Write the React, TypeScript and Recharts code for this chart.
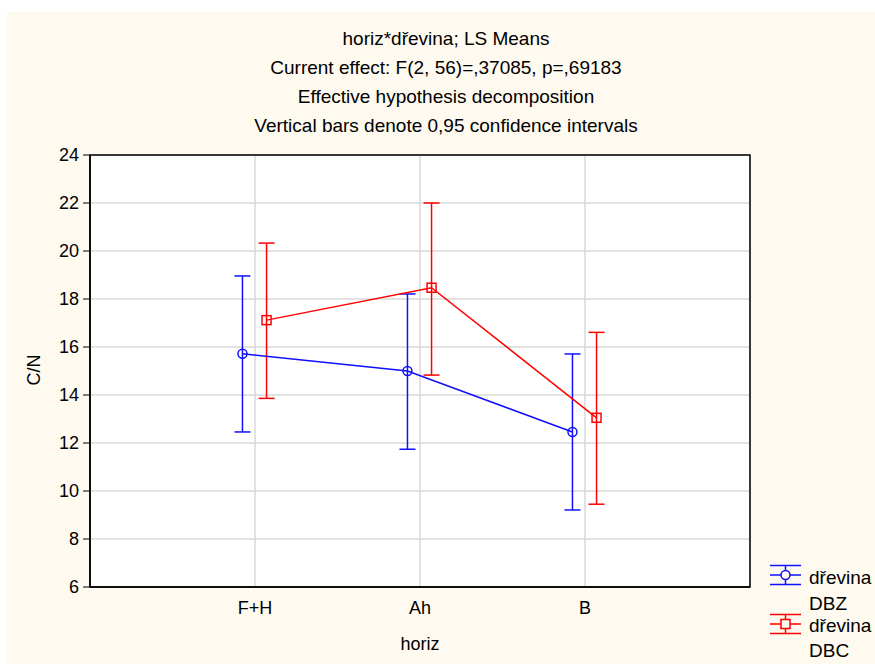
import React from 'react';
import { ComposedChart, Scatter, XAxis, YAxis, CartesianGrid, ErrorBar, ReferenceArea } from 'recharts';

const categories = ['F+H', 'Ah', 'B'];
const yTicks = [6, 8, 10, 12, 14, 16, 18, 20, 22, 24];
const dbzMean = [15.72, 15.0, 12.46];
const dbzLow = [12.46, 11.74, 9.21];
const dbzHigh = [18.96, 18.21, 15.71];
const dbcMean = [17.12, 18.47, 13.05];
const dbcLow = [13.86, 14.83, 9.45];
const dbcHigh = [20.33, 22.0, 16.61];
const titleLines = [
  'horiz*dřevina; LS Means',
  'Current effect: F(2, 56)=,37085, p=,69183',
  'Effective hypothesis decomposition',
  'Vertical bars denote 0,95 confidence intervals',
];

const BLUE = '#1010ff';
const RED = '#ff0000';
const CREAM = '#fefaf0';
const FONT = '"Liberation Sans", Arial, sans-serif';

const build = (mean: number[], low: number[], high: number[], off: number) =>
  mean.map((m, i) => ({ x: i + 1 + off, y: m, err: [m - low[i], high[i] - m] }));

const dbzData = build(dbzMean, dbzLow, dbzHigh, -0.076);
const dbcData = build(dbcMean, dbcLow, dbcHigh, 0.07);

const CircleShape = (props: any) => (
  <circle cx={props.cx} cy={props.cy} r={4.5} fill="none" stroke={BLUE} strokeWidth={1.5} />
);
const SquareShape = (props: any) => (
  <rect x={props.cx - 4.5} y={props.cy - 4.5} width={9} height={9} fill="none" stroke={RED} strokeWidth={1.5} />
);

const LegendIcon = ({ cy, color, square }: { cy: number; color: string; square?: boolean }) => (
  <g stroke={color} strokeWidth={1.5} fill="none">
    <line x1={770} y1={cy - 9.5} x2={801} y2={cy - 9.5} />
    <line x1={770} y1={cy + 9.5} x2={801} y2={cy + 9.5} />
    <line x1={770} y1={cy} x2={801} y2={cy} />
    <line x1={785.5} y1={cy - 9.5} x2={785.5} y2={cy + 9.5} />
    {square ? (
      <rect x={781} y={cy - 4.5} width={9} height={9} fill={CREAM} />
    ) : (
      <circle cx={785.5} cy={cy} r={4.5} fill={CREAM} />
    )}
  </g>
);

export default function App() {
  return (
    <div style={{ position: 'relative', width: 875, height: 664, overflow: 'hidden', background: '#ffffff' }}>
      <style>{'html,body{margin:0;padding:0;background:#ffffff;}'}</style>
      <div
        style={{
          position: 'absolute',
          left: 7,
          top: 12,
          width: 868,
          height: 652,
          background: CREAM,
        }}
      >
        <ComposedChart width={868} height={652} margin={{ top: 143, right: 125, bottom: 0, left: 0 }}>
          <CartesianGrid stroke="#d9d9d9" strokeWidth={1.5} fill="#ffffff" />
          <XAxis
            type="number"
            dataKey="x"
            domain={[0, 4]}
            ticks={[1, 2, 3]}
            tickFormatter={(v: number) => categories[v - 1]}
            height={77}
            tickLine={false}
            tickSize={0}
            tickMargin={14}
            axisLine={{ stroke: '#000', strokeWidth: 1.5 }}
            tick={{ fill: '#000', fontSize: 18, fontFamily: FONT }}
            allowDataOverflow
          />
          <YAxis
            type="number"
            domain={[6, 24]}
            ticks={yTicks}
            width={83}
            tickSize={7}
            tickMargin={4}
            tickLine={{ stroke: '#000', strokeWidth: 1 }}
            axisLine={{ stroke: '#000', strokeWidth: 1.5 }}
            tick={{ fill: '#000', fontSize: 18, fontFamily: FONT }}
            allowDataOverflow
          />
          <ReferenceArea x1={0} x2={4} y1={6} y2={24} fill="none" fillOpacity={0} stroke="#000" strokeWidth={1.5} ifOverflow="visible" />
          <Scatter
            data={dbzData}
            dataKey="y"
            line={{ stroke: BLUE, strokeWidth: 1.5 }}
            lineType="joint"
            shape={CircleShape}
            isAnimationActive={false}
          >
            <ErrorBar dataKey="err" direction="y" width={8} stroke={BLUE} strokeWidth={1.5} isAnimationActive={false} />
          </Scatter>
          <Scatter
            data={dbcData}
            dataKey="y"
            line={{ stroke: RED, strokeWidth: 1.5 }}
            lineType="joint"
            shape={SquareShape}
            isAnimationActive={false}
          >
            <ErrorBar dataKey="err" direction="y" width={8} stroke={RED} strokeWidth={1.5} isAnimationActive={false} />
          </Scatter>
        </ComposedChart>
      </div>
      <svg
        width={875}
        height={664}
        style={{ position: 'absolute', left: 0, top: 0, pointerEvents: 'none' }}
        fontFamily={FONT}
      >
        {titleLines.map((t, i) => (
          <text key={i} x={446} y={38 + i * 29} textAnchor="middle" dominantBaseline="central" fontSize={19} fill="#000">
            {t}
          </text>
        ))}
        <text x={420} y={644} textAnchor="middle" dominantBaseline="central" fontSize={18} fill="#000">
          horiz
        </text>
        <text
          x={34}
          y={370}
          textAnchor="middle"
          dominantBaseline="central"
          fontSize={18}
          fill="#000"
          transform="rotate(-90 34 370)"
        >
          C/N
        </text>
        <LegendIcon cy={575} color={BLUE} />
        <text x={809} y={577} dominantBaseline="central" fontSize={19} fill="#000">dřevina</text>
        <text x={809} y={603} dominantBaseline="central" fontSize={19} fill="#000">DBZ</text>
        <LegendIcon cy={624} color={RED} square />
        <text x={809} y={625} dominantBaseline="central" fontSize={19} fill="#000">dřevina</text>
        <text x={809} y={650} dominantBaseline="central" fontSize={19} fill="#000">DBC</text>
      </svg>
    </div>
  );
}
